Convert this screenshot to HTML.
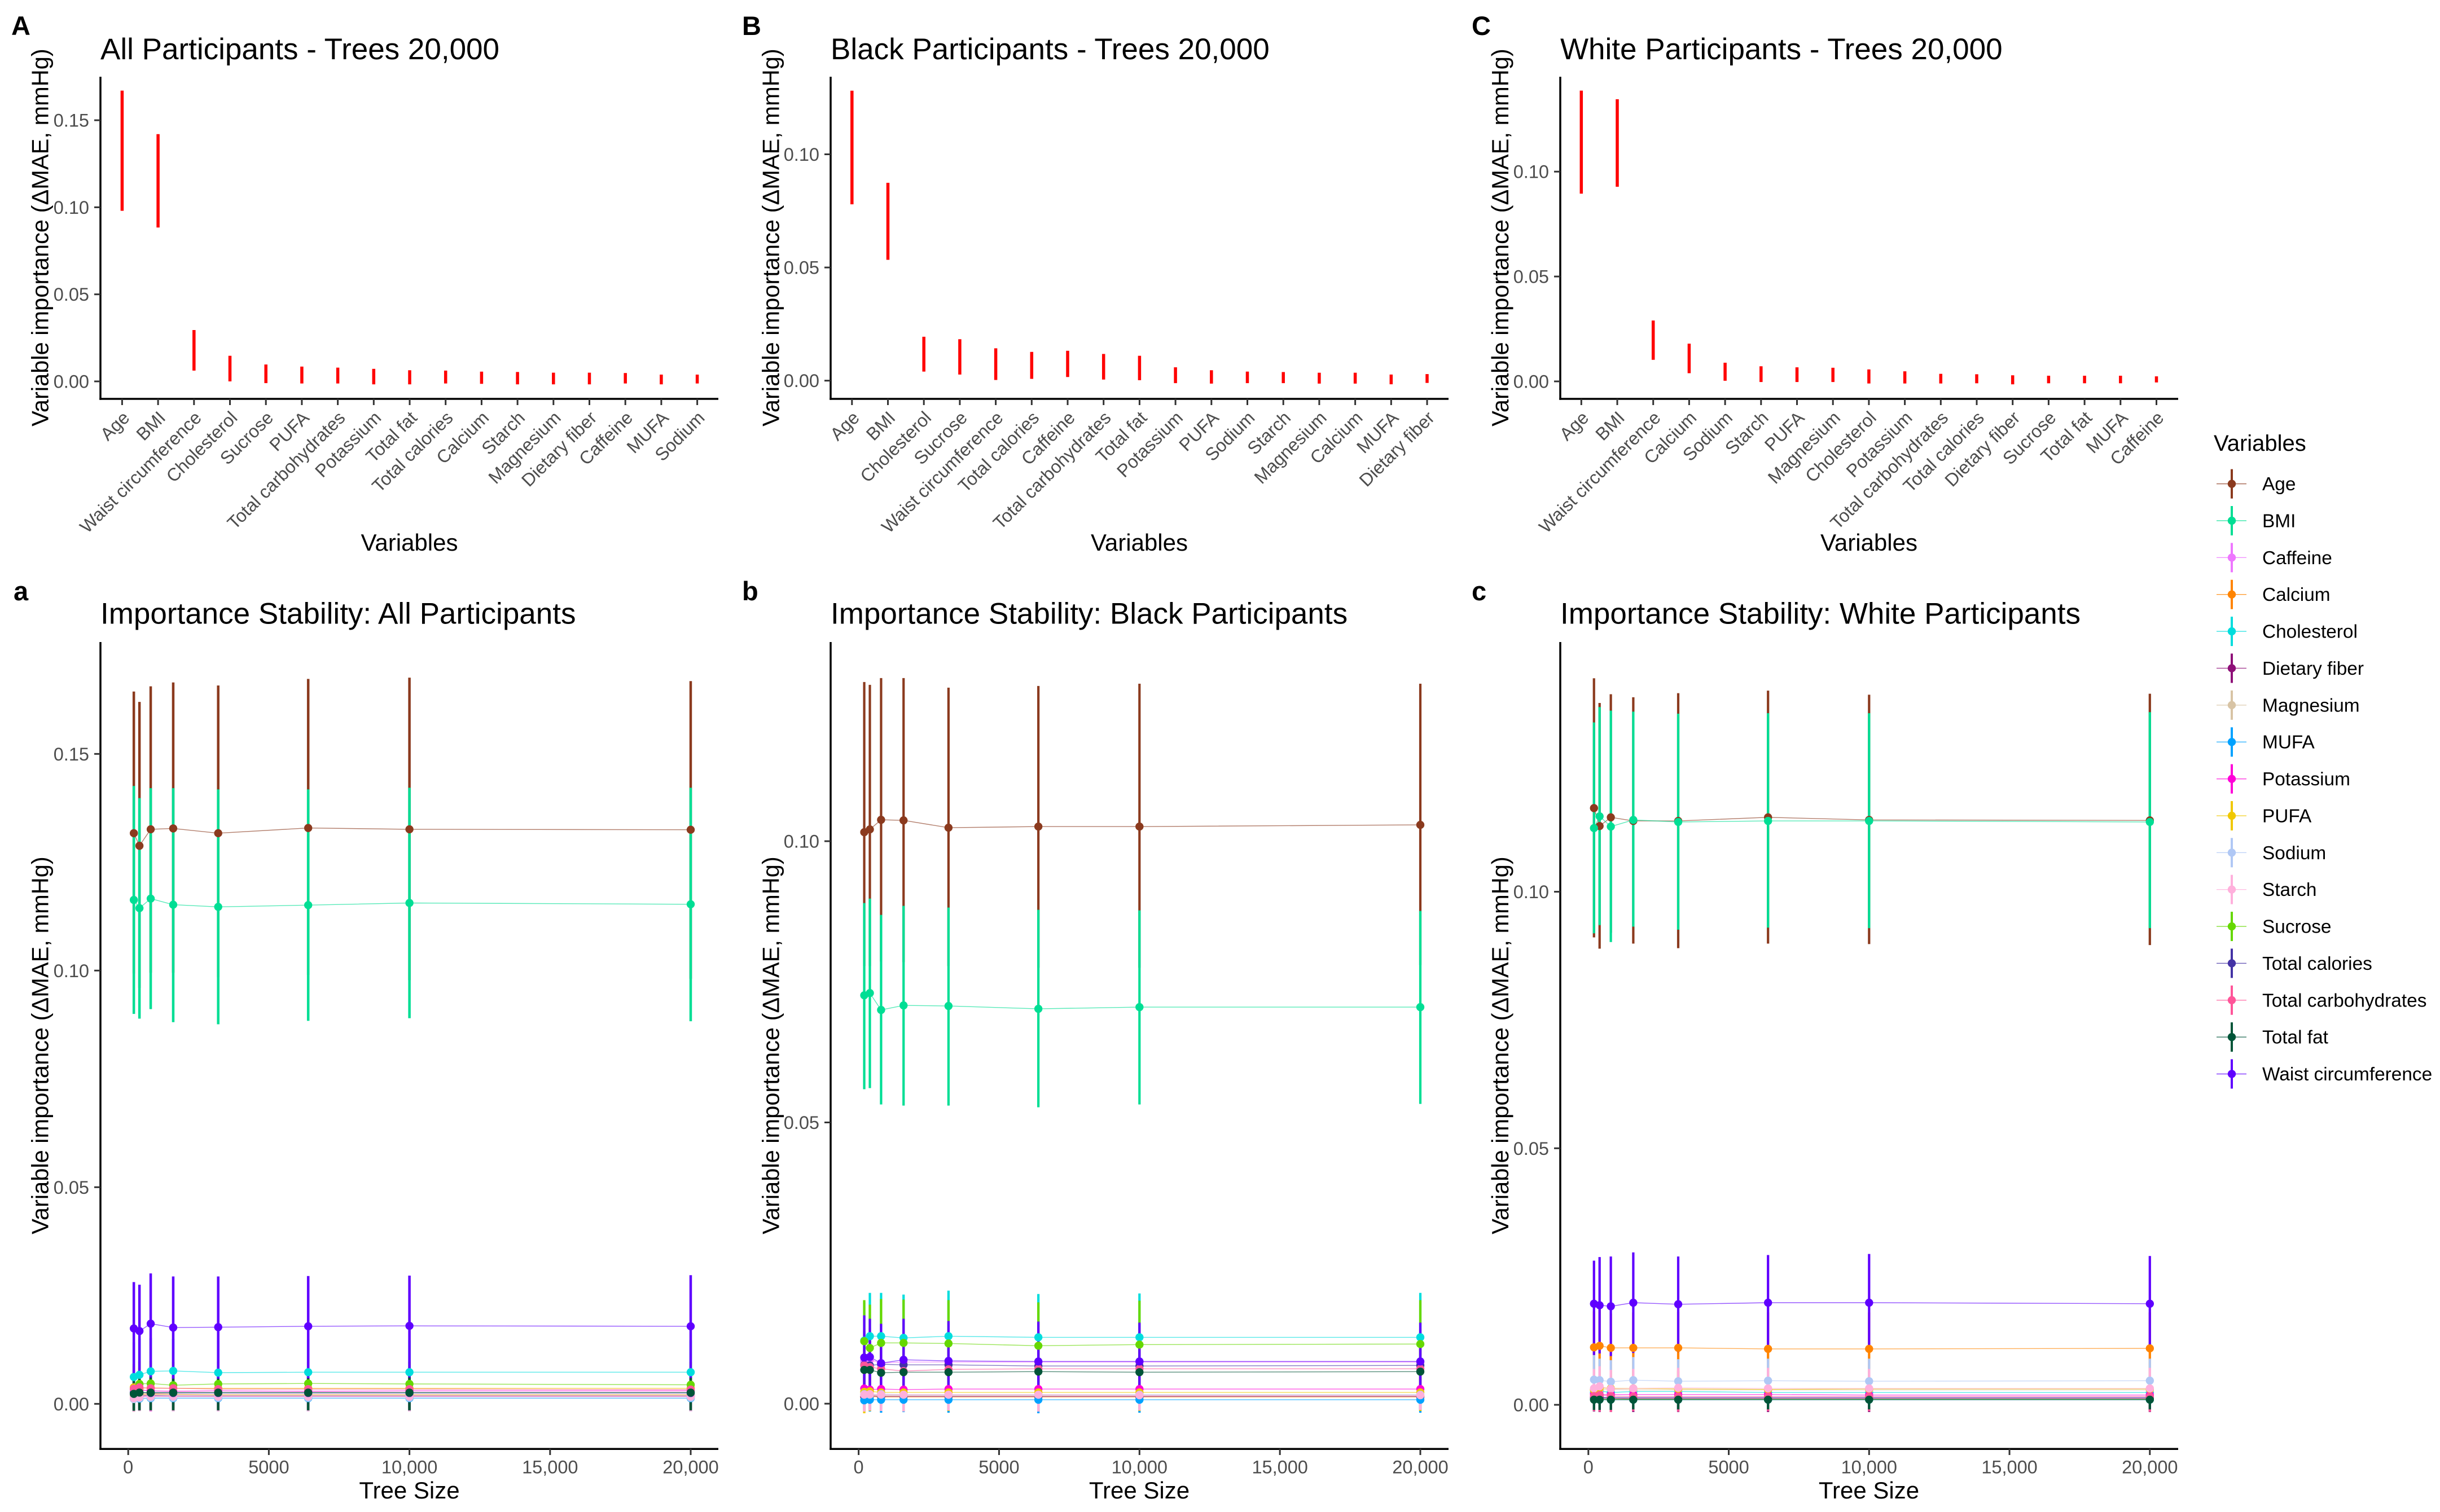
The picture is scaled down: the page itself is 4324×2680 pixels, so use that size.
<!DOCTYPE html>
<html lang="en">
<head>
<meta charset="utf-8">
<title>Variable importance panels</title>
<style>
html,body{margin:0;padding:0;background:#fff;}
svg{display:block;font-family:"Liberation Sans",sans-serif;}
.ptitle{font-size:53px;fill:#000;}
.atitle{font-size:42px;fill:#000;}
.ytitle{font-size:41.6px;fill:#000;}
.tag{font-size:47px;font-weight:bold;fill:#000;}
.tick{font-size:32.5px;fill:#4d4d4d;}
.rtick{font-size:32px;fill:#4d4d4d;}
.leg{font-size:33.4px;fill:#000;}
.legt{font-size:40px;fill:#000;}
</style>
</head>
<body>
<svg id="fig" xmlns="http://www.w3.org/2000/svg" width="4324" height="2680" viewBox="0 0 4324 2680">
<rect width="4324" height="2680" fill="#fff"/>
<text class="tag" x="20" y="62">A</text>
<text class="tag" x="1315" y="62">B</text>
<text class="tag" x="2608" y="62">C</text>
<text class="tag" x="24" y="1064">a</text>
<text class="tag" x="1315" y="1064">b</text>
<text class="tag" x="2608" y="1064">c</text>
<text class="ptitle" x="178" y="105">All Participants - Trees 20,000</text>
<text class="ptitle" x="1472" y="105">Black Participants - Trees 20,000</text>
<text class="ptitle" x="2765" y="105">White Participants - Trees 20,000</text>
<text class="ptitle" x="178" y="1105.5">Importance Stability: All Participants</text>
<text class="ptitle" x="1472" y="1105.5">Importance Stability: Black Participants</text>
<text class="ptitle" x="2765" y="1105.5">Importance Stability: White Participants</text>
<text class="ytitle" text-anchor="middle" transform="translate(85.4,421) rotate(-90)">Variable importance (ΔMAE, mmHg)</text>
<text class="ytitle" text-anchor="middle" transform="translate(1380.4,421) rotate(-90)">Variable importance (ΔMAE, mmHg)</text>
<text class="ytitle" text-anchor="middle" transform="translate(2673,421) rotate(-90)">Variable importance (ΔMAE, mmHg)</text>
<text class="ytitle" text-anchor="middle" transform="translate(85.4,1853) rotate(-90)">Variable importance (ΔMAE, mmHg)</text>
<text class="ytitle" text-anchor="middle" transform="translate(1380.4,1853) rotate(-90)">Variable importance (ΔMAE, mmHg)</text>
<text class="ytitle" text-anchor="middle" transform="translate(2673,1853) rotate(-90)">Variable importance (ΔMAE, mmHg)</text>
<text class="atitle" text-anchor="middle" x="725.5" y="976">Variables</text>
<text class="atitle" text-anchor="middle" x="2019" y="976">Variables</text>
<text class="atitle" text-anchor="middle" x="3312" y="976">Variables</text>
<text class="atitle" text-anchor="middle" x="725.5" y="2656">Tree Size</text>
<text class="atitle" text-anchor="middle" x="2019" y="2656">Tree Size</text>
<text class="atitle" text-anchor="middle" x="3312" y="2656">Tree Size</text>
<text class="legt" x="3923" y="799">Variables</text>
</svg>
<script>
// ---------- shared categories ----------
const variables = ["Age","BMI","Caffeine","Calcium","Cholesterol","Dietary fiber","Magnesium","MUFA","Potassium","PUFA","Sodium","Starch","Sucrose","Total calories","Total carbohydrates","Total fat","Waist circumference"];
const seriesColors = ["#8B3A1E","#00DE94","#EE77FF","#FF8400","#00DDDD","#8E1078","#D8C4A5","#00A2FF","#FF00D8","#F0C800","#B0C8F5","#FFB0DC","#66D800","#4433A5","#FF5599","#005538","#5F00FF"];
const treeSizes = [200,400,800,1600,3200,6400,10000,20000];
const treeTickValues = [0,5000,10000,15000,20000];
const treeTickLabels = ["0","5000","10,000","15,000","20,000"];

// ---------- panels A, B, C: importance at 20,000 trees ----------
const allRankNames = ["Age","BMI","Waist circumference","Cholesterol","Sucrose","PUFA","Total carbohydrates","Potassium","Total fat","Total calories","Calcium","Starch","Magnesium","Dietary fiber","Caffeine","MUFA","Sodium"];
const allRankHigh = [.167,.142,.0295,.0147,.0097,.0085,.0079,.0072,.0064,.0062,.0056,.0054,.005,.005,.0048,.0039,.0039];
const allRankLow = [.098,.0884,.0062,0,-.001,-.0012,-.0012,-.0017,-.0017,-.0012,-.0014,-.0017,-.0017,-.0017,-.0012,-.0017,-.0012];
const blackRankNames = ["Age","BMI","Cholesterol","Sucrose","Waist circumference","Total calories","Caffeine","Total carbohydrates","Total fat","Potassium","PUFA","Sodium","Starch","Magnesium","Calcium","MUFA","Dietary fiber"];
const blackRankHigh = [.1281,.0874,.0194,.0183,.0143,.0127,.0132,.0118,.011,.0059,.0046,.004,.0038,.0035,.0035,.0027,.0029];
const blackRankLow = [.0779,.0534,.004,.0027,.0003,.0008,.0016,.0005,.0002,-.0011,-.0013,-.0011,-.0011,-.0013,-.0013,-.0016,-.001];
const whiteRankNames = ["Age","BMI","Waist circumference","Calcium","Sodium","Starch","PUFA","Magnesium","Cholesterol","Potassium","Total carbohydrates","Total calories","Dietary fiber","Sucrose","Total fat","MUFA","Caffeine"];
const whiteRankHigh = [.1386,.1345,.029,.018,.0089,.0072,.0067,.0065,.0057,.0048,.0036,.0034,.0029,.0027,.0027,.0027,.0024];
const whiteRankLow = [.0895,.0928,.0103,.0039,.0003,-.0003,-.0003,-.0003,-.001,-.001,-.001,-.0009,-.0014,-.0009,-.0009,-.0009,-.0005];

// ---------- panel a: all participants ----------
const allMean = [
[.1317,.1288,.1326,.1328,.1317,.1329,.1326,.1325],
[.1163,.1144,.1166,.1152,.1147,.1151,.1156,.1153],
[.0018,.0017,.0018,.0018,.0017,.0017,.0017,.0017],
[.0024,.0022,.0023,.0022,.0021,.0021,.0021,.0021],
[.0062,.0067,.0075,.0076,.0072,.0073,.0073,.0073],
[.0016,.0019,.0019,.0018,.0018,.0018,.0018,.0018],
[.0017,.002,.0021,.0021,.002,.002,.002,.002],
[.0012,.0012,.0013,.0013,.0013,.0013,.0013,.0013],
[.0034,.0032,.003,.0029,.003,.0029,.003,.003],
[.0038,.0036,.0037,.0036,.0036,.0036,.0036,.0036],
[.0011,.0013,.0014,.0014,.0014,.0014,.0014,.0014],
[.0013,.0015,.0017,.0017,.0017,.0017,.0017,.0017],
[.0035,.0046,.0047,.0043,.0046,.0047,.0046,.0044],
[.0026,.0026,.0025,.0025,.0025,.0025,.0025,.0025],
[.0035,.0038,.0036,.0036,.0034,.0034,.0034,.0033],
[.0023,.0026,.0026,.0026,.0026,.0026,.0026,.0026],
[.0174,.0168,.0185,.0176,.0177,.0179,.018,.0179]];
const allHigh = [
[.1644,.162,.1656,.1665,.1658,.1673,.1676,.1668],
[.1426,.1398,.1421,.1421,.1418,.1418,.1422,.1422],
[.0047,.0046,.0049,.0048,.0048,.0048,.0048,.0048],
[.0056,.0055,.0057,.0056,.0056,.0056,.0056,.0056],
[.0142,.015,.0152,.015,.0147,.0148,.0147,.0147],
[.0048,.005,.0051,.005,.005,.005,.005,.005],
[.0048,.0051,.0051,.005,.005,.005,.005,.005],
[.0038,.0039,.004,.0039,.0039,.0039,.0039,.0039],
[.0074,.0073,.0072,.0071,.0072,.0072,.0072,.0072],
[.0088,.0084,.0086,.0085,.0085,.0085,.0085,.0085],
[.0037,.0039,.004,.0039,.0039,.0039,.0039,.0039],
[.0052,.0053,.0055,.0054,.0054,.0054,.0054,.0054],
[.0092,.0098,.0099,.0097,.0098,.0097,.0097,.0097],
[.0062,.0063,.0062,.0062,.0062,.0062,.0062,.0062],
[.008,.0081,.008,.0079,.0079,.0079,.0079,.0079],
[.0062,.0065,.0065,.0064,.0064,.0064,.0064,.0064],
[.0281,.0275,.0301,.0294,.0294,.0295,.0296,.0297]];
const allLow = [
[.0993,.096,.0995,.0995,.0985,.099,.0978,.0981],
[.09,.0889,.0911,.0881,.0876,.0884,.089,.0883],
[-.0012,-.0013,-.0012,-.0012,-.0012,-.0012,-.0012,-.0012],
[-.0014,-.0014,-.0014,-.0014,-.0014,-.0014,-.0014,-.0014],
[-.0005,0,0,0,0,0,0,0],
[-.0018,-.0016,-.0017,-.0017,-.0017,-.0017,-.0017,-.0017],
[-.0018,-.0016,-.0016,-.0017,-.0017,-.0017,-.0017,-.0017],
[-.0017,-.0016,-.0016,-.0016,-.0017,-.0017,-.0017,-.0017],
[-.0015,-.0016,-.0017,-.0017,-.0017,-.0017,-.0017,-.0017],
[-.0012,-.0012,-.0012,-.0012,-.0012,-.0012,-.0012,-.0012],
[-.0015,-.0014,-.0013,-.0012,-.0012,-.0012,-.0012,-.0012],
[-.0018,-.0017,-.0016,-.0017,-.0017,-.0017,-.0017,-.0017],
[-.0012,-.001,-.001,-.001,-.001,-.001,-.001,-.001],
[-.0013,-.0012,-.0012,-.0012,-.0012,-.0012,-.0012,-.0012],
[-.0016,-.0013,-.0012,-.0012,-.0012,-.0012,-.0012,-.0012],
[-.0016,-.0015,-.0015,-.0015,-.0015,-.0015,-.0015,-.0015],
[.0063,.006,.0061,.0058,.0058,.0059,.0061,.006]];

// ---------- panel b: black participants ----------
const blackMean = [
[.1016,.1021,.1038,.1037,.1024,.1026,.1026,.1029],
[.0726,.073,.07,.0708,.0707,.0702,.0705,.0705],
[.0076,.0078,.0072,.0074,.0074,.0074,.0074,.0074],
[.0012,.0013,.0012,.0012,.0012,.0012,.0012,.0012],
[.0112,.012,.012,.0117,.012,.0118,.0118,.0118],
[.0013,.0014,.0013,.0013,.0013,.0013,.0013,.0013],
[.0016,.0015,.0015,.0015,.0015,.0015,.0015,.0015],
[.0006,.0007,.0007,.0007,.0007,.0007,.0007,.0007],
[.0027,.0025,.0026,.0025,.0026,.0026,.0026,.0026],
[.0021,.0022,.002,.002,.002,.002,.002,.002],
[.0017,.0016,.0017,.0016,.0016,.0016,.0016,.0016],
[.0016,.0017,.0016,.0016,.0016,.0016,.0015,.0015],
[.0111,.0099,.0108,.0108,.0107,.0103,.0105,.0106],
[.0069,.0068,.007,.0069,.0069,.0067,.0067,.0068],
[.0068,.0065,.0062,.0058,.0061,.0062,.0062,.0062],
[.006,.006,.0055,.0056,.0056,.0057,.0056,.0057],
[.0082,.0083,.0072,.0078,.0076,.0075,.0075,.0075]];
const blackHigh = [
[.1283,.1278,.129,.129,.1273,.1276,.128,.128],
[.089,.0898,.0869,.0885,.0882,.0878,.0877,.0876],
[.0133,.0135,.013,.0132,.0132,.0132,.0132,.0132],
[.0036,.0037,.0035,.0035,.0035,.0035,.0035,.0035],
[.018,.0197,.0197,.0194,.0201,.0195,.0196,.0197],
[.003,.0031,.0029,.0029,.0029,.0029,.0029,.0029],
[.0036,.0035,.0035,.0035,.0035,.0035,.0035,.0035],
[.0027,.0028,.0027,.0027,.0027,.0027,.0027,.0027],
[.006,.0058,.0059,.0059,.0059,.0059,.0059,.0059],
[.0047,.0048,.0046,.0046,.0046,.0046,.0046,.0046],
[.0041,.004,.004,.004,.004,.004,.004,.004],
[.0038,.0039,.0038,.0038,.0038,.0038,.0038,.0038],
[.0184,.0176,.0186,.0185,.0184,.018,.0183,.0184],
[.0129,.0127,.0128,.0127,.0127,.0127,.0127,.0127],
[.0122,.0119,.0118,.0117,.0118,.0118,.0118,.0118],
[.0113,.0113,.0109,.011,.011,.011,.011,.011],
[.0157,.0151,.0142,.0151,.0147,.0146,.0144,.0144]];
const blackLow = [
[.0778,.0778,.0786,.0785,.0778,.0775,.0775,.078],
[.0559,.0561,.0532,.053,.053,.0527,.0532,.0533],
[.0017,.0018,.0015,.0016,.0016,.0016,.0016,.0016],
[-.0013,-.0012,-.0013,-.0013,-.0013,-.0013,-.0013,-.0013],
[.0038,.0042,.0041,.004,.0041,.004,.004,.004],
[-.001,-.0009,-.001,-.001,-.001,-.001,-.001,-.001],
[-.0013,-.0013,-.0013,-.0013,-.0013,-.0013,-.0013,-.0013],
[-.0015,-.0014,-.0016,-.0015,-.0016,-.0017,-.0016,-.0016],
[-.0011,-.0012,-.0011,-.0012,-.0011,-.0011,-.0011,-.0011],
[-.0017,-.0013,-.0013,-.0013,-.0013,-.0013,-.0013,-.0013],
[-.0011,-.0011,-.0011,-.0011,-.0011,-.0011,-.0011,-.0011],
[-.0014,-.0012,-.0013,-.0014,-.0012,-.0014,-.0012,-.0011],
[.0028,.0022,.0026,.0027,.0027,.0024,.0026,.0027],
[.0009,.0008,.0008,.0008,.0008,.0008,.0008,.0008],
[.0007,.0005,.0005,.0004,.0005,.0005,.0005,.0005],
[.0004,.0004,.0001,.0002,.0002,.0002,.0002,.0002],
[.0004,.0005,.0002,.0003,.0003,.0003,.0003,.0003]];

// ---------- panel c: white participants ----------
const whiteMean = [
[.1163,.1128,.1145,.1138,.1138,.1145,.114,.1139],
[.1124,.1147,.1127,.114,.1136,.1138,.1138,.1136],
[.0014,.0013,.0013,.0013,.0013,.0013,.0013,.0013],
[.0112,.0115,.0111,.0111,.0111,.0109,.0109,.011],
[.0024,.0027,.0024,.0026,.0026,.0024,.0024,.0024],
[.0012,.0013,.0013,.0012,.0012,.0012,.0012,.0012],
[.003,.0029,.003,.0029,.0029,.0029,.0029,.0029],
[.0011,.001,.001,.001,.001,.001,.001,.001],
[.0021,.002,.002,.002,.002,.002,.0019,.0019],
[.0029,.0033,.0032,.0032,.0031,.003,.0031,.0031],
[.0049,.0048,.0045,.0048,.0046,.0047,.0046,.0047],
[.0032,.0036,.0031,.0032,.0033,.0032,.0032,.0032],
[.0012,.0011,.0011,.0011,.0011,.0011,.0011,.0011],
[.0014,.0015,.0014,.0014,.0014,.0014,.0014,.0014],
[.0017,.0019,.0017,.0016,.0016,.0016,.0016,.0016],
[.001,.001,.001,.001,.001,.001,.001,.001],
[.0197,.0194,.0192,.0199,.0196,.0199,.0199,.0197]];
const whiteHigh = [
[.1416,.1368,.1385,.1379,.1387,.1392,.1384,.1386],
[.133,.136,.1353,.1351,.1347,.1348,.1348,.135],
[.0025,.0024,.0024,.0024,.0024,.0024,.0024,.0024],
[.0182,.0187,.0178,.018,.0181,.018,.018,.018],
[.0055,.0058,.0056,.0057,.0057,.0057,.0057,.0057],
[.0029,.003,.0029,.0029,.0029,.0029,.0029,.0029],
[.0066,.0065,.0065,.0065,.0065,.0065,.0065,.0065],
[.0027,.0026,.0027,.0027,.0027,.0027,.0027,.0027],
[.0049,.0048,.0048,.0048,.0048,.0048,.0048,.0048],
[.0065,.0069,.0067,.0067,.0067,.0067,.0067,.0067],
[.0097,.009,.0087,.0093,.0089,.009,.009,.009],
[.007,.0075,.0068,.007,.0072,.0072,.007,.0072],
[.0028,.0027,.0027,.0027,.0027,.0027,.0027,.0027],
[.0034,.0035,.0034,.0034,.0034,.0034,.0034,.0034],
[.0037,.0038,.0036,.0036,.0036,.0036,.0036,.0036],
[.0027,.0028,.0027,.0027,.0027,.0027,.0027,.0027],
[.0281,.0288,.0289,.0297,.0289,.0292,.0294,.029]];
const whiteLow = [
[.0911,.0889,.092,.0899,.089,.0899,.0898,.0896],
[.0919,.0935,.0902,.0932,.0926,.093,.0929,.0929],
[-.0006,-.0005,-.0005,-.0005,-.0005,-.0005,-.0005,-.0005],
[.0039,.0041,.0038,.0039,.0038,.0039,.0039,.0039],
[-.001,-.0008,-.001,-.001,-.001,-.001,-.001,-.001],
[-.0013,-.0014,-.0014,-.0014,-.0014,-.0014,-.0014,-.0014],
[-.0004,-.0004,-.0003,-.0003,-.0003,-.0003,-.0003,-.0003],
[-.0009,-.0009,-.0009,-.0009,-.0009,-.0009,-.0009,-.0009],
[-.0009,-.001,-.0011,-.001,-.001,-.001,-.001,-.001],
[-.0005,-.0004,-.0003,-.0003,-.0003,-.0003,-.0003,-.0003],
[.0003,.0004,.0002,.0003,.0003,.0003,.0003,.0003],
[-.0004,-.0002,-.0004,-.0003,-.0003,-.0003,-.0003,-.0003],
[-.0009,-.001,-.0009,-.0009,-.0009,-.0009,-.0009,-.0009],
[-.0009,-.0009,-.0009,-.0009,-.0009,-.0009,-.0009,-.0009],
[-.0012,-.0013,-.0014,-.0012,-.0013,-.0012,-.0012,-.0013],
[-.001,-.001,-.001,-.0009,-.0009,-.0009,-.0009,-.0009],
[.0097,.01,.0095,.0101,.0103,.0103,.0103,.0103]];

// ---------- drawing ----------
const NS = "http://www.w3.org/2000/svg";
const fig = document.getElementById("fig");
function el(tag, parent, attrs, text){
  const n = document.createElementNS(NS, tag);
  for (const k in attrs) n.setAttribute(k, attrs[k]);
  if (text !== undefined) n.textContent = text;
  parent.appendChild(n);
  return n;
}
function slug(s){ return s.toLowerCase().replace(/[^a-z0-9]+/g, "-"); }
function linearScale(d0, d1, r0, r1){ return v => r0 + (v - d0) * (r1 - r0) / (d1 - d0); }

function drawAxes(g, axisX, axisRight, axisTop, axisBottom, yScale, yTicks, fmt, prefix){
  const yAxis = el("line", g, {x1:axisX, x2:axisX, y1:axisTop, y2:axisBottom + 1.75, stroke:"#000", "stroke-width":3.5});
  
  
  const xAxis = el("line", g, {x1:axisX - 1.75, x2:axisRight, y1:axisBottom, y2:axisBottom, stroke:"#000", "stroke-width":3.5});
  
  
  yTicks.forEach(v => {
    const y = yScale(v);
    const t = el("line", g, {x1:axisX - 11, x2:axisX, y1:y, y2:y, stroke:"#333", "stroke-width":3});
    
    
    const l = el("text", g, {class:"tick", x:axisX - 20, y:y + 11.5, "text-anchor":"end"}, v.toFixed(2));
    
    
  });
}

function drawRankPanel(prefix, axisX, first, zeroY, perUnit, yTicks, names, lows, highs){
  const g = el("g", fig, {});
  
  
  const yScale = linearScale(0, 1, zeroY, zeroY - perUnit);
  const xScale = i => first + i * 63.7;
  drawAxes(g, axisX, axisX + 1095, 136, 707, yScale, yTicks, null, prefix);
  names.forEach((name, i) => {
    const x = xScale(i);
    const bar = el("line", g, {x1:x, x2:x, y1:yScale(highs[i]), y2:yScale(lows[i]), stroke:"#ff0000", "stroke-width":5.5});
    
    
    const t = el("line", g, {x1:x, x2:x, y1:707, y2:718, stroke:"#333", "stroke-width":3});
    
    
    const l = el("text", g, {class:"rtick", "text-anchor":"end", transform:"translate(" + (x + 15) + ",742.5) rotate(-45)"}, name);
    
    
  });
}

function drawStabilityPanel(prefix, axisX, x0, pxPerTree, zeroY, perUnit, yTicks, means, lows, highs, barW){
  const g = el("g", fig, {});
  
  
  const yScale = linearScale(0, 1, zeroY, zeroY - perUnit);
  const xScale = linearScale(0, 1, x0, x0 + pxPerTree);
  drawAxes(g, axisX, axisX + 1095, 1138, 2568.3, yScale, yTicks, null, prefix);
  treeTickValues.forEach((v, i) => {
    const x = xScale(v);
    const t = el("line", g, {x1:x, x2:x, y1:2568, y2:2579, stroke:"#333", "stroke-width":3});
    
    
    const l = el("text", g, {class:"tick", x:x, y:2611.7, "text-anchor":"middle"}, treeTickLabels[i]);
    
    
  });
  variables.forEach((name, s) => {
    const pts = treeSizes.map((t, i) => xScale(t).toFixed(1) + "," + yScale(means[s][i]).toFixed(1)).join(" ");
    const line = el("polyline", g, {points:pts, fill:"none", stroke:seriesColors[s], "stroke-width":1.4, "stroke-opacity":0.65});
    
    
  });
  variables.forEach((name, s) => {
    treeSizes.forEach((t, i) => {
      const x = xScale(t);
      const bar = el("line", g, {x1:x, x2:x, y1:yScale(highs[s][i]), y2:yScale(lows[s][i]), stroke:seriesColors[s], "stroke-width":barW});
      
      
    });
  });
  variables.forEach((name, s) => {
    treeSizes.forEach((t, i) => {
      const dot = el("circle", g, {cx:xScale(t), cy:yScale(means[s][i]), r:7.2, fill:seriesColors[s]});
      
      
    });
  });
}

drawRankPanel("panel-A", 178, 216.4, 676, 3086, [0,.05,.10,.15], allRankNames, allRankLow, allRankHigh);
drawRankPanel("panel-B", 1472, 1509.8, 674.7, 4012, [0,.05,.10], blackRankNames, blackRankLow, blackRankHigh);
drawRankPanel("panel-C", 2765, 2802.3, 676, 3718, [0,.05,.10], whiteRankNames, whiteRankLow, whiteRankHigh);
drawStabilityPanel("panel-a", 178, 227.2, .04984, 2488.3, 7680, [0,.05,.10,.15], allMean, allLow, allHigh, 4.5);
drawStabilityPanel("panel-b", 1472, 1521.6, .04977, 2488, 9970, [0,.05,.10], blackMean, blackLow, blackHigh, 4.2);
drawStabilityPanel("panel-c", 2765, 2814.8, .04975, 2490, 9094, [0,.05,.10], whiteMean, whiteLow, whiteHigh, 4.2);

const legend = el("g", fig, {});


variables.forEach((name, s) => {
  const cy = 857.6 + s * 65.37;
  const entry = el("g", legend, {});
  
  
  const h = el("line", entry, {x1:3928, x2:3981, y1:cy, y2:cy, stroke:seriesColors[s], "stroke-width":1.4, "stroke-opacity":0.8});
  
  
  const v = el("line", entry, {x1:3955, x2:3955, y1:cy - 26, y2:cy + 26, stroke:seriesColors[s], "stroke-width":4});
  
  
  const c = el("circle", entry, {cx:3955, cy:cy, r:7.2, fill:seriesColors[s]});
  
  
  const t = el("text", entry, {class:"leg", x:4009, y:cy + 11.5}, name);
  
  
});
</script>
</body>
</html>
